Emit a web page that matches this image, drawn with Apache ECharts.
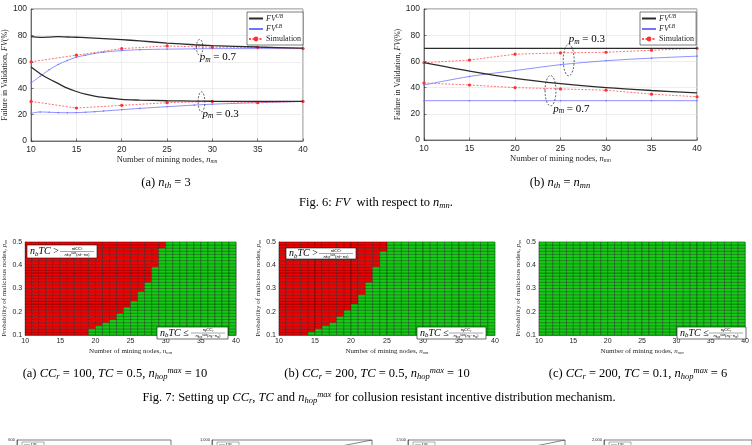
<!DOCTYPE html>
<html>
<head>
<meta charset="utf-8">
<script src="https://cdn.jsdelivr.net/npm/echarts@6/dist/echarts.min.js"></script>
<style>
html,body{margin:0;padding:0;background:#fff;}
#main{width:752px;height:445px;}
</style>
</head>
<body>
<div id="main"></div>
<script>
// ---- Fig. 6 data (FV in %, x = number of mining nodes) ----
const nmn5 = [10, 15, 20, 25, 30, 35, 40];
const nmnFine = [10, 11, 12, 13, 14, 15, 16, 17, 18, 20, 22, 25, 28, 30, 35, 40];

// (a) n_th = 3
const aUB07 = [79, 78.5, 78.7, 79, 78.8, 78.6, 78.3, 78, 77.6, 76.8, 75.8, 74.2, 72.9, 72.3, 71.2, 70.3];
const aLB07 = [44, 49, 54, 58, 61, 63.5, 65, 66.3, 67.3, 68.5, 69.2, 69.6, 69.8, 70, 70, 70];
const aSim07 = [60, 65, 70, 72, 71, 71, 70];
const aUB03 = [56, 51, 47, 43.5, 40, 37.5, 35.5, 34, 33, 31.5, 31, 30.5, 30.2, 30.1, 30, 30];
const aLB03 = [21, 22, 21.8, 21.5, 21.4, 21.5, 21.8, 22.2, 22.7, 23.7, 24.7, 26, 27.2, 27.9, 29, 30];
const aSim03 = [30, 25, 27, 29, 30, 29, 30];

// (b) n_th = n_mn
const bUB03 = [70, 70, 70, 70, 70, 70, 70];
const bLB03 = [42, 48.5, 53, 57.5, 60.5, 62.5, 64];
const bSim03 = [59, 61, 65.5, 66.5, 67, 68.5, 70];
const bUB07 = [59, 52.5, 47, 43, 40, 37.8, 36];
const bLB07 = [30, 30, 30, 30, 30, 30, 30];
const bSim07 = [43.5, 42, 40, 39, 38, 35, 33];

// ---- Fig. 7 data: first green (n_b TC <= ...) node count per p_m row, bottom row first ----
const pmMin = 0.1, pmMax = 0.5, pmRows = 30;
const nMin = 10, nMax = 40;
const edgeA = [19, 19, 20, 21, 22, 23, 23, 24, 24, 25, 25, 26, 26, 26, 27, 27, 27, 28, 28, 28, 28, 28, 29, 29, 29, 29, 29, 29, 30, 30];
const edgeB = [14, 15, 16, 17, 18, 18, 19, 19, 20, 20, 21, 21, 21, 22, 22, 22, 22, 23, 23, 23, 23, 23, 24, 24, 24, 24, 24, 25, 25, 25];
const edgeC = [10, 10, 10, 10, 10, 10, 10, 10, 10, 10, 10, 10, 10, 10, 10, 10, 10, 10, 10, 10, 10, 10, 10, 10, 10, 10, 10, 10, 10, 10];

// ---- Fig. 8 (cut off at bottom) y-axis tops ----
const fig8Max = [600, 1000, 1500, 2000];
const fig8X = [0, 2, 4, 6, 8, 10];
const fig8UB2 = [0, 150, 320, 520, 750, 1000];
const fig8UB3 = [0, 230, 480, 780, 1120, 1500];

const chart = echarts.init(document.getElementById('main'));

const SERIF = 'Liberation Serif';
const SANS = 'Liberation Sans';
const INK = '#262626';

function mathRich(size) {
  return {
    r: { fontFamily: SERIF, fontSize: size, color: INK },
    i: { fontFamily: SERIF, fontStyle: 'italic', fontSize: size, color: INK },
    sub: { fontFamily: SERIF, fontStyle: 'italic', fontSize: size * 0.68, color: INK, padding: [size * 0.45, 0, 0, 0] },
    sup: { fontFamily: SERIF, fontStyle: 'italic', fontSize: size * 0.68, color: INK, padding: [0, 0, size * 0.5, 0] }
  };
}

function pairs(xs, ys) { return xs.map((x, k) => [x, ys[k]]); }

function cellData(edge) {
  const dp = (pmMax - pmMin) / pmRows;
  const out = [];
  for (let r = 0; r < pmRows; r++) {
    for (let n = nMin; n < nMax; n++) {
      out.push([n, pmMin + r * dp, n >= edge[r] ? 1 : 0]);
    }
  }
  return out;
}

function renderCell(params, api) {
  const dp = (pmMax - pmMin) / pmRows;
  const x0 = api.value(0), y0 = api.value(1);
  const a = api.coord([x0, y0 + dp]);
  const b = api.coord([x0 + 1, y0]);
  return {
    type: 'rect',
    shape: { x: a[0], y: a[1], width: b[0] - a[0], height: b[1] - a[1] },
    style: { fill: api.value(2) ? '#12cc12' : '#f00000', stroke: 'rgba(0,0,0,0.6)', lineWidth: 0.5 }
  };
}

// grids: 0,1 line charts; 2,3,4 heatmaps; 5..8 bottom row
const grids = [
  { left: 30, top: 9, width: 273, height: 132 },
  { left: 424, top: 9, width: 273, height: 131 },
  { left: 21, top: 242, width: 215, height: 93 },
  { left: 279, top: 242, width: 216, height: 93 },
  { left: 539, top: 242, width: 215, height: 93 },
  { left: 17, top: 440, width: 154, height: 100 },
  { left: 212, top: 440, width: 160, height: 100 },
  { left: 408, top: 440, width: 157, height: 100 },
  { left: 604, top: 440, width: 160, height: 100 }
].map(g => Object.assign({ show: true, borderColor: INK, borderWidth: 0.6, backgroundColor: 'transparent' }, g));

const xAxes = [], yAxes = [];
const nameX = '{r|Number of mining nodes, }{i|n}{sub|mn}';
const nameFV = '{r|Failure in Validation, }{i|FV}{r|(%)}';
const namePm = '{r|Probability of malicious nodes, }{i|p}{sub|m}';

for (let g = 0; g < 2; g++) {
  xAxes.push({
    gridIndex: g, type: 'value', min: 10, max: 40, interval: 5,
    name: nameX, nameLocation: 'middle', nameGap: 14, nameTextStyle: { rich: mathRich(8.5) },
    axisLine: { lineStyle: { color: INK, width: 0.6 } },
    axisTick: { inside: true, length: 2.5, lineStyle: { color: INK, width: 0.6 } },
    axisLabel: { fontFamily: SANS, fontSize: 8.5, color: INK, margin: 4 },
    splitLine: { show: true, lineStyle: { color: '#e3e3e3', width: 0.6 } }
  });
  yAxes.push({
    gridIndex: g, type: 'value', min: 0, max: 100, interval: 20,
    name: nameFV, nameLocation: 'middle', nameGap: 19, nameTextStyle: { rich: mathRich(8) },
    axisLine: { show: true, lineStyle: { color: INK, width: 0.6 } },
    axisTick: { show: true, inside: true, length: 2.5, lineStyle: { color: INK, width: 0.6 } },
    axisLabel: { fontFamily: SANS, fontSize: 8.5, color: INK, margin: 4 },
    splitLine: { show: true, lineStyle: { color: '#e3e3e3', width: 0.6 } }
  });
}
for (let g = 2; g < 5; g++) {
  xAxes.push({
    gridIndex: g, type: 'value', min: nMin, max: nMax, interval: 5,
    name: nameX, nameLocation: 'middle', nameGap: 12, nameTextStyle: { rich: mathRich(7) },
    axisLine: { lineStyle: { color: INK, width: 0.6 } },
    axisTick: { show: false },
    axisLabel: { fontFamily: SANS, fontSize: 7, color: INK, margin: 3 },
    splitLine: { show: false }
  });
  yAxes.push({
    gridIndex: g, type: 'value', min: pmMin, max: pmMax, interval: 0.1,
    name: namePm, nameLocation: 'middle', nameGap: 13, nameTextStyle: { rich: mathRich(7) },
    axisLine: { show: true, lineStyle: { color: INK, width: 0.6 } },
    axisTick: { show: false },
    axisLabel: { fontFamily: SANS, fontSize: 7, color: INK, margin: 3, formatter: v => v.toFixed(1) },
    splitLine: { show: false }
  });
}
for (let g = 5; g < 9; g++) {
  const m = fig8Max[g - 5];
  xAxes.push({
    gridIndex: g, type: 'value', min: 0, max: 10, interval: 2,
    axisLine: { lineStyle: { color: INK, width: 0.5 } }, axisTick: { show: false },
    axisLabel: { show: false }, splitLine: { show: false }
  });
  yAxes.push({
    gridIndex: g, type: 'value', min: 0, max: m, interval: m / 2,
    axisLine: { show: true, lineStyle: { color: INK, width: 0.5 } }, axisTick: { show: false },
    axisLabel: { fontFamily: SANS, fontSize: 4, color: INK, margin: 2 },
    splitLine: { show: false }
  });
}

const ubStyle = { color: '#2b2b2b', lineStyle: { width: 1.3, color: '#2b2b2b' }, symbol: 'none' };
const lbStyle = { color: '#7272ff', lineStyle: { width: 0.8, color: '#7272ff' }, symbol: 'circle', symbolSize: 1.6 };
const simStyle = { color: '#ff3030', lineStyle: { width: 0.8, color: '#ff5050', type: [2, 1.5] }, symbol: 'circle', symbolSize: 3.2 };

function lineSeries(name, grid, data, style, smooth) {
  return Object.assign({ name: name, type: 'line', xAxisIndex: grid, yAxisIndex: grid, data: data, smooth: smooth || false, animation: false, z: name === 'FV^UB' ? 3 : 2 }, style);
}

const series = [
  lineSeries('FV^UB', 0, pairs(nmnFine, aUB07), ubStyle, 0.3),
  lineSeries('FV^UB', 0, pairs(nmnFine, aUB03), ubStyle, 0.3),
  lineSeries('FV^LB', 0, pairs(nmnFine, aLB07), lbStyle, 0.3),
  lineSeries('FV^LB', 0, pairs(nmnFine, aLB03), lbStyle, 0.3),
  lineSeries('Simulation', 0, pairs(nmn5, aSim07), simStyle),
  lineSeries('Simulation', 0, pairs(nmn5, aSim03), simStyle),
  lineSeries('FV^UB', 1, pairs(nmn5, bUB03), ubStyle),
  lineSeries('FV^UB', 1, pairs(nmn5, bUB07), ubStyle, 0.3),
  lineSeries('FV^LB', 1, pairs(nmn5, bLB03), lbStyle, 0.3),
  lineSeries('FV^LB', 1, pairs(nmn5, bLB07), lbStyle),
  lineSeries('Simulation', 1, pairs(nmn5, bSim03), simStyle),
  lineSeries('Simulation', 1, pairs(nmn5, bSim07), simStyle),
  { name: 'UB8', type: 'line', xAxisIndex: 6, yAxisIndex: 6, data: pairs(fig8X, fig8UB2), symbol: 'none', lineStyle: { width: 0.6, color: '#333' } },
  { name: 'UB8', type: 'line', xAxisIndex: 7, yAxisIndex: 7, data: pairs(fig8X, fig8UB3), symbol: 'none', lineStyle: { width: 0.6, color: '#333' } }
];
[edgeA, edgeB, edgeC].forEach((edge, k) => {
  series.push({
    type: 'custom', xAxisIndex: 2 + k, yAxisIndex: 2 + k, data: cellData(edge),
    renderItem: renderCell, animation: false, clip: true, silent: true, z: 1
  });
});

const legendFmt = {
  'FV^UB': '{i|FV}{sup|UB}',
  'FV^LB': '{i|FV}{sup|LB}',
  'Simulation': '{r|Simulation}'
};
function legendAt(left) {
  return {
    left: left, top: 12, orient: 'vertical',
    data: [
      { name: 'FV^UB', itemStyle: { opacity: 0 } },
      { name: 'FV^LB', itemStyle: { opacity: 0 } },
      'Simulation'
    ],
    itemWidth: 14, itemHeight: 6, itemGap: 2, padding: [2, 2, 2, 1],
    backgroundColor: '#fff', borderColor: INK, borderWidth: 0.6, borderRadius: 0,
    selectedMode: false,
    formatter: name => legendFmt[name],
    textStyle: { fontSize: 8, padding: [0, 0, 0, -2], rich: mathRich(8) }
  };
}

chart.setOption({
  animation: false,
  grid: grids,
  xAxis: xAxes,
  yAxis: yAxes,
  legend: [legendAt(247), legendAt(640)],
  series: series
});

// ---- annotations ----
const graphics = [];
const ZTOP = 100;

function ellipseAt(grid, cx, cy, hw, hh) {
  const c = chart.convertToPixel({ gridIndex: grid }, [cx, cy]);
  const e = chart.convertToPixel({ gridIndex: grid }, [cx + hw, cy + hh]);
  graphics.push({
    type: 'ellipse', z: ZTOP,
    shape: { cx: c[0], cy: c[1], rx: Math.abs(e[0] - c[0]), ry: Math.abs(c[1] - e[1]) },
    style: { fill: 'none', stroke: '#222', lineWidth: 0.7, lineDash: [2, 1.5] }
  });
}
function pmLabel(grid, x, y, val) {
  const p = chart.convertToPixel({ gridIndex: grid }, [x, y]);
  graphics.push({
    type: 'text', z: ZTOP, x: p[0], y: p[1],
    style: { text: '{i|p}{sub|m}{r| = ' + val + '}', rich: mathRich(11), verticalAlign: 'middle' }
  });
}
ellipseAt(0, 28.6, 71, 0.36, 6);
ellipseAt(0, 28.8, 29.7, 0.37, 7.6);
pmLabel(0, 28.6, 63.5, '0.7');
pmLabel(0, 28.9, 20.5, '0.3');
ellipseAt(1, 25.9, 61, 0.6, 12);
ellipseAt(1, 23.9, 37.6, 0.6, 11.6);
pmLabel(1, 25.9, 77, '0.3');
pmLabel(1, 24.2, 23.7, '0.7');

function condBox(x, y, w, h, op) {
  const fs = 10, fr = 4.4;
  const fx = w - 20;
  graphics.push(
    { type: 'rect', z: ZTOP, shape: { x: x, y: y, width: w, height: h }, style: { fill: '#fff', stroke: '#111', lineWidth: 0.6 } },
    { type: 'text', z: ZTOP + 1, x: x + 3, y: y + h / 2, style: { text: '{i|n}{sub|b}{i|TC}{r| ' + op + ' }', rich: mathRich(fs), verticalAlign: 'middle' } },
    { type: 'line', z: ZTOP + 1, shape: { x1: x + w - 37, y1: y + h / 2, x2: x + w - 3, y2: y + h / 2 }, style: { stroke: '#222', lineWidth: 0.4 } },
    { type: 'text', z: ZTOP + 1, x: x + fx, y: y + h / 2 - 0.4, style: { text: '{i|n}{sub|b}{i|CC}{sub|r}', rich: mathRich(fr), align: 'center', verticalAlign: 'bottom' } },
    { type: 'text', z: ZTOP + 1, x: x + fx, y: y + h / 2 + 0.4, style: { text: '{i|n}{sub|hop}{sup|max}{r|(}{i|n}{sub|b}{r|−}{i|n}{sub|m}{r|)}', rich: mathRich(fr), align: 'center', verticalAlign: 'top' } }
  );
}
condBox(27, 245, 70, 13, '>');
condBox(157, 327, 71, 12, '≤');
condBox(286, 248, 70, 11, '>');
condBox(417, 327, 69, 12, '≤');
condBox(677, 327, 69, 12, '≤');

function caption(cx, y, text, size) {
  graphics.push({
    type: 'text', x: cx, y: y, z: ZTOP,
    style: { text: text, rich: mathRich(size), align: 'center', verticalAlign: 'middle' }
  });
}
caption(166, 183, '{r|(a) }{i|n}{sub|th}{r| = 3}', 12.5);
caption(560, 183, '{r|(b) }{i|n}{sub|th}{r| = }{i|n}{sub|mn}', 12.5);
caption(376, 203, '{r|Fig. 6: }{i|FV}{r|  with respect to }{i|n}{sub|mn}{r|.}', 12.5);
caption(115, 374, '{r|(a) }{i|CC}{sub|r}{r| = 100, }{i|TC}{r| = 0.5, }{i|n}{sub|hop}{sup|max}{r| = 10}', 12.5);
caption(377, 374, '{r|(b) }{i|CC}{sub|r}{r| = 200, }{i|TC}{r| = 0.5, }{i|n}{sub|hop}{sup|max}{r| = 10}', 12.5);
caption(638, 374, '{r|(c) }{i|CC}{sub|r}{r| = 200, }{i|TC}{r| = 0.1, }{i|n}{sub|hop}{sup|max}{r| = 6}', 12.5);
caption(379, 398, '{r|Fig. 7: Setting up }{i|CC}{sub|r}{r|, }{i|TC}{r| and }{i|n}{sub|hop}{sup|max}{r| for collusion resistant incentive distribution mechanism.}', 12.5);

// tiny legends of the cut-off bottom row
[17, 212, 408, 604].forEach(x => {
  graphics.push(
    { type: 'rect', z: ZTOP, shape: { x: x + 5, y: 442, width: 22, height: 8 }, style: { fill: '#fff', stroke: '#333', lineWidth: 0.4 } },
    { type: 'line', z: ZTOP + 1, shape: { x1: x + 7, y1: 445, x2: x + 13, y2: 445 }, style: { stroke: '#333', lineWidth: 0.6 } },
    { type: 'text', z: ZTOP + 1, x: x + 14, y: 445, style: { text: '{i|UB}', rich: mathRich(4), verticalAlign: 'middle' } }
  );
});

chart.setOption({ graphic: graphics });
</script>
</body>
</html>
